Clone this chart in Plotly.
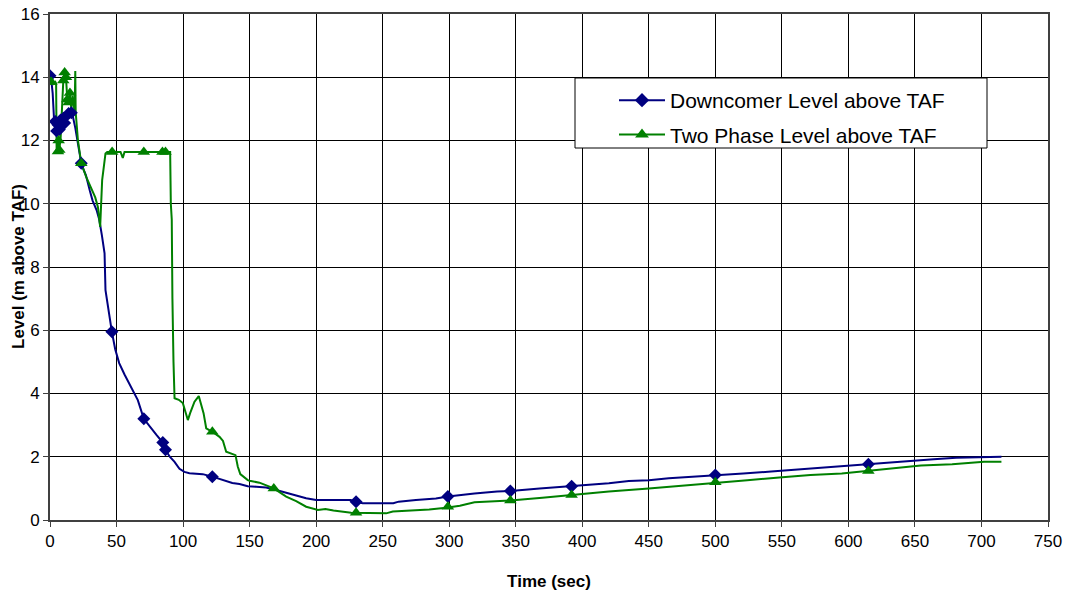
import plotly.graph_objects as go

# ---- Downcomer Level above TAF (line) ----
dc_time = [0, 1, 2, 3, 4, 5, 6, 7, 8, 9, 10, 11, 12, 13, 14, 15, 16, 17, 19, 21, 23.5, 25, 27,
           30, 32, 35, 37, 39, 41, 41.7, 44, 46.5, 49, 52, 56, 61, 66, 70.5, 75, 80, 84.8, 86.8,
           90, 93.6, 97.3, 101, 104.8, 110, 114.8, 122, 127, 132.4, 137, 142.4, 148.6, 155,
           162.4, 170, 177.5, 185, 192.5, 200, 210, 226, 230, 235, 258, 262, 275, 290, 299,
           319, 336, 346, 368, 392, 399, 420, 435, 450, 465, 486, 500, 521, 542, 557, 577,
           601, 615, 625, 643, 664, 681, 702, 715]
dc_level = [14.05, 13.9, 13.5, 12.7, 12.6, 12.3, 12.5, 12.35, 12.65, 12.5, 12.7, 12.55, 12.75,
            12.8, 12.85, 12.9, 12.88, 12.8, 12.4, 11.9, 11.28, 11.1, 10.9, 10.4, 10.1, 9.8, 9.5,
            9.0, 8.43, 7.27, 6.6, 5.95, 5.4, 4.96, 4.6, 4.2, 3.79, 3.2, 2.95, 2.69, 2.45, 2.22,
            2.0, 1.84, 1.62, 1.52, 1.48, 1.46, 1.45, 1.37, 1.3, 1.21, 1.17, 1.14, 1.07, 1.05,
            1.03, 0.95, 0.86, 0.78, 0.69, 0.63, 0.63, 0.63, 0.58, 0.53, 0.53, 0.58, 0.63, 0.68,
            0.74, 0.84, 0.9, 0.92, 1.0, 1.07, 1.1, 1.16, 1.23, 1.26, 1.32, 1.37, 1.42, 1.47,
            1.53, 1.58, 1.65, 1.72, 1.76, 1.79, 1.86, 1.92, 1.97, 2.0, 2.0]

# Downcomer markers
dc_mark_time = [0, 4, 5, 6, 7, 8, 9, 10, 11, 14, 16, 23.5, 46.5, 70.5, 84.8, 86.8, 122, 230,
                299, 346, 392, 500, 615]
dc_mark_level = [14.05, 12.6, 12.3, 12.5, 12.35, 12.65, 12.5, 12.7, 12.55, 12.85, 12.88, 11.28,
                 5.95, 3.2, 2.45, 2.22, 1.37, 0.58, 0.74, 0.92, 1.07, 1.42, 1.76]

# ---- Two Phase Level above TAF (line) ----
tp_time = [0, 1, 2, 3, 4, 4.6, 5, 6, 6.5, 7, 8, 9, 10, 11, 12, 13, 14, 15, 16, 17, 18.5, 19,
           19.3, 21, 23.5, 27.2, 30, 32, 34, 36, 37.7, 39.2, 40.5, 41.7, 43, 46.7, 50, 53,
           54.7, 56, 70.5, 84.5, 86.8, 90.3, 90.8, 91.5, 92, 92.3, 92.8, 93.6, 96.8, 99.8,
           102, 103.6, 105.3, 108.6, 111.8, 115.4, 117.4, 122, 127.4, 130, 132.4, 139.4,
           141.1, 143, 148.6, 150, 157.4, 165, 168.2, 177.5, 185, 192.5, 201.3, 207, 213,
           226.3, 230, 252.6, 257.6, 272.6, 285, 297.7, 308, 319, 340, 346, 370, 392, 420,
           450, 476.5, 500, 524, 548, 571.5, 595, 614.5, 634, 654.5, 678, 702, 715]
tp_level = [13.85, 13.85, 13.9, 13.8, 13.85, 13.8, 11.6, 11.65, 12.0, 11.7, 12.1, 13.0, 13.9,
            14.15, 14.0, 13.3, 13.2, 13.5, 13.0, 13.4, 12.9, 14.2, 12.9, 12.0, 11.28, 10.85,
            10.6, 10.43, 10.2, 9.9, 9.27, 10.75, 11.2, 11.59, 11.64, 11.64, 11.64, 11.64,
            11.45, 11.64, 11.64, 11.64, 11.64, 11.64, 10.0, 9.5, 7.0, 5.48, 5.0, 3.85, 3.8,
            3.7, 3.4, 3.16, 3.38, 3.74, 3.92, 3.38, 2.9, 2.79, 2.63, 2.5, 2.16, 2.05, 1.69,
            1.45, 1.26, 1.24, 1.18, 1.07, 1.0, 0.74, 0.6, 0.42, 0.32, 0.35, 0.3, 0.23, 0.23,
            0.21, 0.27, 0.3, 0.33, 0.39, 0.45, 0.56, 0.6, 0.62, 0.7, 0.79, 0.9, 1.0, 1.1, 1.19,
            1.26, 1.34, 1.42, 1.47, 1.55, 1.63, 1.72, 1.76, 1.84, 1.84]

# Two phase markers
tp_mark_time = [0, 1, 6, 6.5, 7, 10, 11, 12, 13, 14, 15, 23.5, 46.7, 70.5, 84.5, 86.8, 122,
                168.2, 230, 299, 346, 392, 500, 615]
tp_mark_level = [13.85, 13.85, 11.65, 12.0, 11.7, 13.9, 14.15, 14.0, 13.3, 13.2, 13.5, 11.28,
                 11.64, 11.64, 11.64, 11.64, 2.79, 1.0, 0.23, 0.42, 0.62, 0.79, 1.19, 1.55]

# Axis ticks
x_ticks = list(range(0, 751, 50))
y_ticks = list(range(0, 17, 2))

series_names = ["Downcomer Level above TAF", "Two Phase Level above TAF"]
x_title = "Time (sec)"
y_title = "Level (m above TAF)"

BLUE = "#000080"
GREEN = "#008000"
FONT = "Liberation Sans, Arial, sans-serif"

fig = go.Figure()

# lines
fig.add_trace(go.Scatter(x=dc_time, y=dc_level, mode="lines",
                         line=dict(color=BLUE, width=2), showlegend=False, hoverinfo="skip"))
fig.add_trace(go.Scatter(x=tp_time, y=tp_level, mode="lines",
                         line=dict(color=GREEN, width=2), showlegend=False, hoverinfo="skip"))
# markers
fig.add_trace(go.Scatter(x=dc_mark_time, y=dc_mark_level, mode="markers",
                         marker=dict(symbol="diamond", size=10, color=BLUE,
                                     line=dict(width=0)), showlegend=False))
fig.add_trace(go.Scatter(x=tp_mark_time, y=tp_mark_level, mode="markers",
                         marker=dict(symbol="triangle-up", size=11, color=GREEN,
                                     line=dict(width=0)), showlegend=False))
# legend entries
fig.add_trace(go.Scatter(x=[None], y=[None], mode="lines+markers", name=series_names[0],
                         legendgroup="a",
                         line=dict(color=BLUE, width=2),
                         marker=dict(symbol="diamond", size=11, color=BLUE)))
fig.add_trace(go.Scatter(x=[None], y=[None], mode="lines+markers", name=series_names[1],
                         legendgroup="b",
                         line=dict(color=GREEN, width=2),
                         marker=dict(symbol="triangle-up", size=12, color=GREEN)))

axis_common = dict(
    showgrid=True, gridcolor="#000000", gridwidth=1,
    showline=True, linecolor="#404040", linewidth=2, mirror=True,
    ticks="outside", ticklen=5, tickcolor="#404040", tickwidth=1,
    tickfont=dict(family=FONT, size=17, color="#000000"),
    zeroline=False, automargin=False,
)

# plot area in screenshot pixels: left 50, right 1048, top 14, bottom 520
PL, PR, PT, PB = 50, 1048, 14, 520
PW, PH = PR - PL, PB - PT

def px_x(px):
    return (px - PL) / PW

def px_y(py):
    return (PB - py) / PH

# legend frame
fig.add_shape(type="rect", xref="paper", yref="paper",
              x0=px_x(575), x1=px_x(987), y0=px_y(148), y1=px_y(78),
              line=dict(color="#000000", width=1), fillcolor="white", layer="above")

# y axis title
fig.add_annotation(text="<b>" + y_title + "</b>", xref="paper", yref="paper",
                   x=px_x(18), y=0.5, xanchor="center", yanchor="middle",
                   textangle=-90, showarrow=False,
                   font=dict(family=FONT, size=17, color="#000000"))

fig.update_layout(
    width=1068, height=595,
    margin=dict(l=PL, r=1068 - PR, t=PT, b=595 - PB),
    paper_bgcolor="white", plot_bgcolor="white",
    font=dict(family=FONT, color="#000000"),
    xaxis=dict(range=[0, 750], tickvals=x_ticks,
               title=dict(text="<b>" + x_title + "</b>", font=dict(family=FONT, size=17),
                          standoff=25),
               **axis_common),
    yaxis=dict(range=[0, 16], tickvals=y_ticks, **axis_common),
    legend=dict(x=px_x(614), y=px_y(80), xanchor="left", yanchor="top",
                bgcolor="rgba(0,0,0,0)", borderwidth=0,
                font=dict(family=FONT, size=21, color="#000000"),
                itemwidth=46, tracegroupgap=4),
    showlegend=True,
)

fig.write_html("out.html",
               config={"displayModeBar": False},
               post_script="document.body.style.margin='0';"
                           "document.body.style.overflow='hidden';")
